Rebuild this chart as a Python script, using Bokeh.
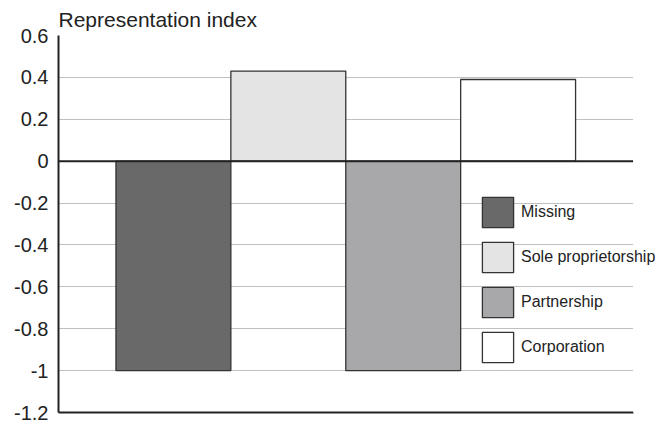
from bokeh.plotting import figure
from bokeh.models import ColumnDataSource, Range1d, FixedTicker, CustomJSTickFormatter, Span, BoxAnnotation
from bokeh.embed import file_html
from bokeh.resources import INLINE

categories = ["Missing", "Sole proprietorship", "Partnership", "Corporation"]
values = [-1.0, 0.43, -1.0, 0.39]
colors = ["#696969", "#e4e4e4", "#a8a8aa", "#ffffff"]
y_ticks = [-1.2, -1.0, -0.8, -0.6, -0.4, -0.2, 0.0, 0.2, 0.4, 0.6]

FONT = "Liberation Sans"
N = len(categories)

src = ColumnDataSource(dict(
    x=[i + 1 for i in range(N)],
    top=values,
    cat=categories,
    color=colors,
))

# frame extends to the right edge so the legend text is not clipped;
# the plotting area proper ends at x = N + 1
p = figure(output_backend="svg", toolbar_location=None,
           frame_width=599, frame_height=377,
           min_border_left=58, min_border_right=0, min_border_top=35, min_border_bottom=10,
           x_range=Range1d(0, N + 1.213), y_range=Range1d(-1.2, 0.6),
           title="Representation index")
p.outline_line_color = None
p.background_fill_color = "white"

p.title.text_font = FONT
p.title.text_font_size = "21px"
p.title.text_font_style = "normal"
p.title.text_color = "#222222"
p.title.align = "left"
p.title.offset = 0
p.title.standoff = 9

p.vbar(x="x", top="top", bottom=0, width=1.0, source=src,
       fill_color="color", line_color="#333333", line_width=1.3,
       legend_field="cat")

# y axis
p.yaxis.ticker = FixedTicker(ticks=y_ticks)
p.yaxis.formatter = CustomJSTickFormatter(code="return tick.toFixed(1).replace(/\\.0$/, '');")
p.yaxis.axis_line_width = 2
p.yaxis.axis_line_color = "#222222"
p.yaxis.major_tick_out = 0
p.yaxis.major_tick_in = 0
p.yaxis.minor_tick_out = 0
p.yaxis.minor_tick_in = 0
p.yaxis.major_label_text_font = FONT
p.yaxis.major_label_text_font_size = "20px"
p.yaxis.major_label_text_color = "#222222"
p.yaxis.major_label_standoff = 10

# x axis: line only (no ticks, no labels), limited to the plotting area
p.xaxis.ticker = FixedTicker(ticks=[])
p.xaxis.bounds = (0, N + 1)
p.xaxis.axis_line_width = 2
p.xaxis.axis_line_color = "#222222"
p.xaxis.major_tick_out = 0
p.xaxis.major_tick_in = 0
p.xaxis.minor_tick_out = 0
p.xaxis.minor_tick_in = 0
p.xaxis.major_label_standoff = 0

# grid
p.xgrid.grid_line_color = None
p.ygrid.ticker = FixedTicker(ticks=y_ticks)
p.ygrid.grid_line_color = "#808080"
p.ygrid.grid_line_dash = "1 1"
p.ygrid.grid_line_width = 1

# zero line
p.add_layout(Span(location=0, dimension="width", line_color="#222222", line_width=2))

# blank out grid/zero line beyond the plotting area
p.add_layout(BoxAnnotation(left=N + 1, fill_color="white", fill_alpha=1.0,
                           line_alpha=0, level="annotation"))

# legend
lg = p.legend[0]
lg.level = "overlay"
lg.location = (420, 46)
lg.padding = 0
lg.margin = 0
lg.spacing = 7
lg.glyph_width = 39
lg.glyph_height = 38
lg.label_height = 38
lg.label_standoff = 4
lg.label_text_font = FONT
lg.label_text_font_size = "16px"
lg.label_text_color = "#222222"
lg.border_line_color = None
lg.background_fill_alpha = 0

open("out.html", "w").write(file_html(p, INLINE))
